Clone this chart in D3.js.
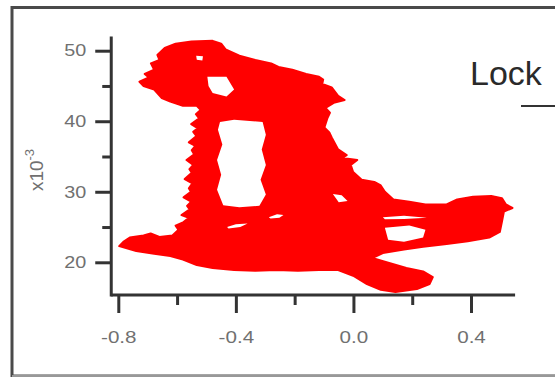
<!DOCTYPE html>
<html><head><meta charset="utf-8">
<script src="https://cdn.jsdelivr.net/npm/d3@7"></script>
<style>html,body{margin:0;padding:0;background:#fff;overflow:hidden}</style>
</head><body><svg id="c" width="555" height="377"></svg>
<script>
// ---- data (x in volts-ish, y in units of 1e-3) ----
const xMajor = [-0.8, -0.4, 0.0, 0.4];
const xMinor = [-0.6, -0.2, 0.2];
const yMajor = [20, 30, 40, 50];
const yMinor = [25, 35, 45];
const yAxisLabel = "x10";
const yAxisExp = "-3";
const legendText = "Lock";

// outer boundary of the dense trajectory
const outline = [
 [-0.667,49.4],[-0.642,50.4],[-0.605,51.0],[-0.551,51.3],[-0.479,51.4],[-0.450,51.0],[-0.435,50.2],
 [-0.388,49.3],[-0.334,48.7],[-0.280,48.2],[-0.255,47.7],[-0.208,47.3],[-0.161,46.7],[-0.117,46.3],
 [-0.103,45.9],[-0.106,45.3],[-0.074,44.8],[-0.052,43.6],[-0.030,43.0],[-0.067,42.6],[-0.095,41.9],
 [-0.080,41.2],[-0.088,40.5],[-0.099,39.1],[-0.082,38.4],[-0.074,37.7],[-0.052,36.0],[-0.023,35.2],[-0.038,34.8],[0.013,34.5],
 [-0.009,33.8],[-0.001,32.8],[0.028,31.7],[0.071,31.4],[0.093,30.9],[0.107,30.0],[0.136,28.9],
 [0.190,28.6],[0.245,28.2],[0.317,28.2],[0.353,28.9],[0.407,29.3],[0.469,29.4],[0.505,29.1],
 [0.519,28.2],[0.541,27.7],[0.512,27.2],[0.505,25.7],[0.498,24.3],[0.462,23.5],[0.389,23.0],
 [0.317,22.6],[0.237,22.2],[0.172,21.8],[0.100,21.3],[0.064,20.6],[0.107,20.1],[0.180,19.2],
 [0.237,18.7],[0.270,17.9],[0.259,16.9],[0.216,16.2],[0.143,15.8],[0.093,16.1],[0.046,16.9],
 [-0.001,18.1],[-0.052,18.9],[-0.117,18.9],[-0.189,18.8],[-0.262,18.9],[-0.334,18.8],[-0.406,18.9],
 [-0.479,19.2],[-0.533,19.6],[-0.580,20.4],[-0.623,20.9],[-0.678,21.2],[-0.739,21.6],[-0.797,22.3],
 [-0.783,22.9],[-0.761,23.5],[-0.714,23.8],[-0.690,24.1],[-0.660,23.6],[-0.616,23.8],[-0.595,24.6],[-0.605,25.2],
 [-0.578,25.7],[-0.560,26.3],[-0.585,26.7],[-0.557,27.5],[-0.566,28.0],[-0.552,28.6],[-0.578,29.2],
 [-0.553,30.0],[-0.560,30.5],[-0.548,31.2],[-0.574,31.8],[-0.550,32.7],[-0.558,33.2],[-0.545,33.8],
 [-0.568,34.5],[-0.542,35.3],[-0.550,35.9],[-0.538,36.5],[-0.560,37.0],[-0.534,37.9],[-0.545,38.5],
 [-0.530,39.0],[-0.552,39.6],[-0.525,40.4],[-0.536,41.0],[-0.520,41.6],[-0.533,42.2],[-0.580,42.2],
 [-0.623,42.8],[-0.652,43.3],[-0.678,44.5],[-0.714,45.0],[-0.728,45.6],[-0.696,46.2],[-0.710,46.7],
 [-0.678,47.3],[-0.689,48.2],[-0.660,48.7]
];
// empty regions inside the trajectory
const holeHead = [[-0.497,46.3],[-0.432,46.3],[-0.406,44.5],[-0.432,43.5],[-0.479,44.0],[-0.493,45.0]];
const holeHead2 = [[-0.535,49.3],[-0.512,49.2],[-0.514,48.6],[-0.533,48.7]];
const holeD = [[-0.454,39.9],[-0.406,40.2],[-0.309,39.9],[-0.298,38.1],[-0.312,36.0],[-0.298,33.8],
 [-0.316,31.7],[-0.298,29.6],[-0.320,28.0],[-0.388,27.8],[-0.443,28.1],[-0.464,30.3],[-0.450,32.4],
 [-0.464,34.5],[-0.446,36.7],[-0.461,38.8]];
const holeRight = [[0.107,24.9],[0.190,25.2],[0.245,24.6],[0.237,23.5],[0.172,22.9],[0.118,23.2]];
const gapRight = [[0.100,26.4],[0.172,26.6],[0.250,26.3],[0.172,26.15],[0.107,26.1]];
const gapLow1 = [[-0.430,25.0],[-0.40,25.4],[-0.360,25.5],[-0.385,25.0],[-0.425,24.8]];
const gapLow2 = [[-0.288,26.4],[-0.26,26.8],[-0.238,26.7],[-0.252,26.3],[-0.282,26.2]];
const gapMid = [[-0.070,29.7],[-0.040,29.5],[-0.020,28.7],[-0.050,28.5]];
const holes = [holeHead, holeHead2, holeD, holeRight, gapRight, gapLow1, gapLow2, gapMid];

const svg = d3.select("#c");
const x = d3.scaleLinear().domain([-0.8, 0.4]).range([118.3, 471]);
const y = d3.scaleLinear().domain([20, 50]).range([262.3, 50.7]);
const xExt = [-0.824, 0.55], yExt = [15.36, 52.0];
const font = "Liberation Sans, Arial, sans-serif";
const stretchY = 1.2, stretchX = 1.25;

// frame
svg.append("rect").attr("x", 12).attr("y", 7.5).attr("width", 600).attr("height", 368.5)
  .attr("fill", "none").attr("stroke", "#4a4a4a").attr("stroke-width", 3);
svg.append("line").attr("x1", 12).attr("x2", 555).attr("y1", 376).attr("y2", 376)
  .attr("stroke", "#e6e6e6").attr("stroke-width", 1);

// trajectory
const line = d3.line().x(d => x(d[0])).y(d => y(d[1])).curve(d3.curveLinearClosed);
svg.append("path").attr("d", line(outline)).attr("fill", "#ff0000")
  .attr("stroke", "#ff0000").attr("stroke-width", 2).attr("stroke-linejoin", "round");
svg.append("path").attr("d", holes.map(a => line(a)).join(" ")).attr("fill", "#ffffff");

// axes
const axisColor = "#333";
const gX = svg.append("g").attr("transform", `translate(0,${y(yExt[0])})`);
gX.call(d3.axisBottom(x).tickValues(xMajor).tickSize(18).tickPadding(18).tickFormat(d => d.toFixed(1)));
gX.append("g").call(d3.axisBottom(x).tickValues(xMinor).tickSize(10).tickFormat(""));
gX.selectAll(".domain").remove();
gX.selectAll(".tick line").attr("stroke", axisColor).attr("stroke-width", 3);
gX.selectAll(".tick text").attr("font-family", font).attr("font-size", 16.5).attr("fill", "#707070")
  .attr("transform", `scale(${stretchX},1)`);
gX.append("line").attr("x1", x(xExt[0])).attr("x2", x(xExt[1])).attr("y1", 0).attr("y2", 0)
  .attr("stroke", axisColor).attr("stroke-width", 3);

const gY = svg.append("g").attr("transform", `translate(${x(xExt[0])},0)`);
gY.call(d3.axisLeft(y).tickValues(yMajor).tickSize(16).tickPadding(9).tickFormat(d3.format("d")));
gY.append("g").call(d3.axisLeft(y).tickValues(yMinor).tickSize(9).tickFormat(""));
gY.selectAll(".domain").remove();
gY.selectAll(".tick line").attr("stroke", axisColor).attr("stroke-width", 3);
gY.selectAll(".tick text").attr("font-family", font).attr("font-size", 16.5).attr("fill", "#707070")
  .attr("x", -25 / stretchY).attr("transform", `scale(${stretchY},1)`);
gY.append("line").attr("x1", 0).attr("x2", 0).attr("y1", y(yExt[0]) + 1.5).attr("y2", y(yExt[1]))
  .attr("stroke", axisColor).attr("stroke-width", 3);

// y-axis multiplier label
const yl = svg.append("text").attr("transform", "translate(43,170) rotate(-90)")
  .attr("text-anchor", "middle").attr("font-family", font)
  .attr("font-size", 19).attr("fill", "#707070");
yl.append("tspan").text(yAxisLabel);
yl.append("tspan").attr("dy", -9).attr("font-size", 13).text(yAxisExp);

// legend
svg.append("text").attr("x", 470).attr("y", 85).attr("font-family", font)
  .attr("font-size", 34).attr("fill", "#2a2a2a").text(legendText);
svg.append("line").attr("x1", 521).attr("x2", 560).attr("y1", 106).attr("y2", 106)
  .attr("stroke", "#333").attr("stroke-width", 2);
</script></body></html>
